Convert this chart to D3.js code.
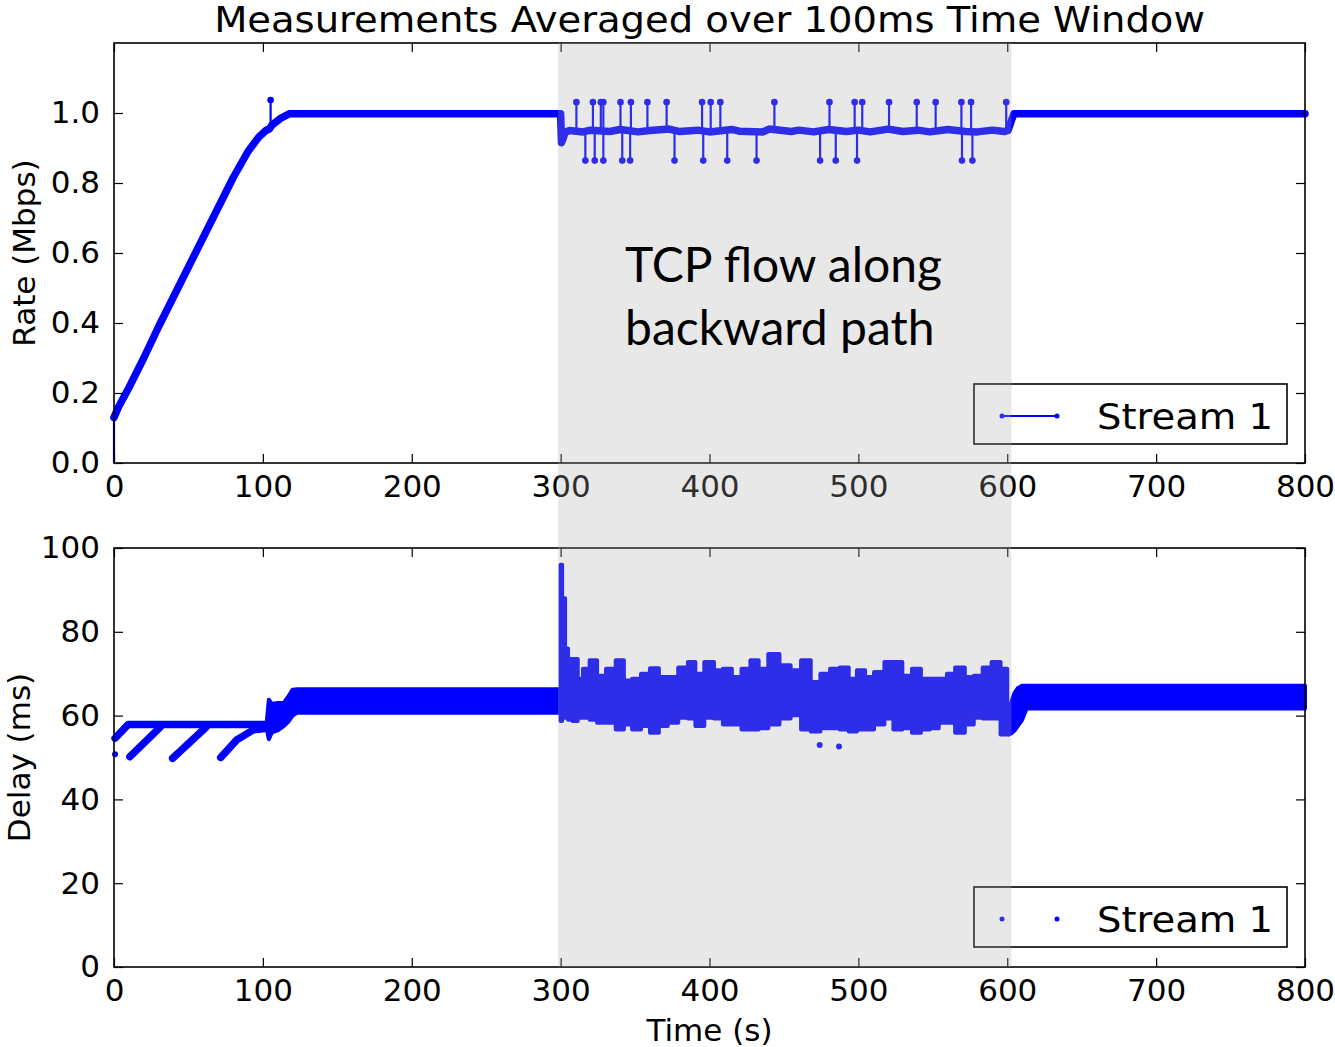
<!DOCTYPE html>
<html>
<head>
<meta charset="utf-8">
<script src="https://cdn.jsdelivr.net/npm/d3@7"></script>
<style>
  body { margin: 0; background: #fff; }
  text { font-family: "DejaVu Sans", sans-serif; }
</style>
</head>
<body>
<div class="canvas"></div>
<script>
// ---- DATA ----
const xTicks = [0, 100, 200, 300, 400, 500, 600, 700, 800];
const rateTicks = [0, 0.2, 0.4, 0.6, 0.8, 1.0];
const delayTicks = [0, 20, 40, 60, 80, 100];

// rate, main trace (s, Mbps)
const rateTimes = [0, 3, 10, 20, 30, 40, 50, 60, 70, 80, 90, 97, 102, 104.5, 106, 112, 118, 300,
  300.6, 301.5, 303, 306, 315, 320, 333, 340, 352, 360, 373, 380, 392, 400, 415, 420, 436, 440, 455, 460, 470,
  480, 492, 500, 508, 520, 530, 540, 548, 560, 572, 580, 590, 598,
  600.5, 602.5, 604.5, 800];
const rateValues = [0.13, 0.16, 0.215, 0.30, 0.39, 0.475, 0.56, 0.645, 0.73, 0.815, 0.89, 0.93, 0.95, 0.955, 0.965, 0.985, 0.998, 0.998,
  0.915, 0.925, 0.945, 0.95, 0.946, 0.951, 0.947, 0.953, 0.946, 0.95, 0.954, 0.947, 0.951, 0.946, 0.953, 0.948, 0.946, 0.954, 0.947, 0.951, 0.946,
  0.953, 0.947, 0.951, 0.946, 0.954, 0.947, 0.951, 0.946, 0.953, 0.947, 0.946, 0.951, 0.947,
  0.95, 0.975, 0.998, 0.998];

// rate, single-sample spikes
const spikeTimes = [0, 105.2, 310.6, 316.6, 321.7, 322.9, 327.0, 328.7, 328.7, 340.2, 341.4, 346.7, 347.2, 358.3, 371.2, 376.5,
  395.0, 395.8, 400.8, 407.3, 411.9, 431.6, 443.6, 474.3, 480.6, 484.8, 497.5, 499.1, 502.6, 520.6, 539.2, 551.9,
  569.2, 569.6, 575.7, 576.6, 599.3];
const spikeBase = [0, 0.955, 0.948, 0.948, 0.948, 0.948, 0.948, 0.948, 0.948, 0.948, 0.948, 0.948, 0.948, 0.948, 0.948, 0.948,
  0.948, 0.948, 0.948, 0.948, 0.948, 0.948, 0.948, 0.948, 0.948, 0.948, 0.948, 0.948, 0.948, 0.948, 0.948, 0.948,
  0.948, 0.948, 0.948, 0.948, 0.948];
const spikeTip = [0.13, 1.037, 1.031, 0.864, 1.031, 0.864, 1.031, 1.031, 0.864, 1.031, 0.864, 0.864, 1.031, 1.031, 1.031, 0.864,
  1.031, 0.864, 1.031, 1.031, 0.864, 0.864, 1.031, 0.864, 1.031, 0.864, 1.031, 0.864, 1.031, 1.031, 1.031, 1.031,
  1.031, 0.864, 1.031, 0.864, 1.031];

// delay, early traces (s, ms)
const flatTimes = [0.7, 9.6, 102.5];
const flatDelay = [54.6, 57.9, 57.9];
const saw1Times = [10.7, 30.9];
const saw1Delay = [50.2, 57.2];
const saw2Times = [39.4, 61.8];
const saw2Delay = [49.8, 57.2];
const saw3Times = [71.7, 82.4, 93.6, 109.3];
const saw3Delay = [50, 54.2, 56.6, 57.2];

// delay, bands (low/high envelope)
const band1Times = [102.5, 104, 106, 110, 114, 117, 120, 123, 300];
const band1High = [58, 63.8, 62.8, 63, 63, 64.5, 66.2, 66.3, 66.3];
const band1Low = [57, 54.4, 56, 56.5, 57.5, 58.5, 60, 60.7, 60.7];

const noiseTimes = [300, 302, 304, 306, 310, 313, 317, 322, 327, 334, 340, 345, 351, 357, 363, 369, 375, 383, 388,
  393, 400, 406, 412, 418, 425, 430, 436, 443, 451, 458, 465, 471, 478, 484, 491, 496, 502, 507, 514, 521, 526,
  533, 539, 545, 551, 557, 562, 568, 575, 580, 587, 592, 599, 601];
const noiseHigh = [96, 88, 76, 73.5, 73.5, 68.8, 71.2, 73.2, 69.5, 71.2, 73.2, 68.4, 68.8, 70, 71.3, 69.2, 69.2, 71.5, 72.8,
  70, 72.8, 70.8, 71.2, 69.2, 71.2, 73.2, 71.2, 74.7, 72, 70.8, 73.2, 68, 70, 71.2, 71.5, 68.8, 70.8, 69.2, 70.4, 72.8, 72.8,
  69.5, 71.2, 68.8, 68.8, 68.8, 70, 71.5, 69.2, 69.5, 71.5, 72.8, 71.2, 62];
const noiseLow = [58.7, 59.5, 59.5, 59, 58.7, 59.5, 59.5, 59, 58.3, 58.3, 56.7, 57.9, 56.7, 57.5, 55.9, 57.5, 58.3, 59.5, 59.3,
  57.5, 59.5, 59.3, 57.9, 57.9, 56.7, 56.7, 57, 57.9, 59.3, 60.1, 56.7, 56.2, 57, 57, 56.7, 56.2, 56.7, 56.7, 57.9, 59.3, 56.7,
  57, 55.9, 56.7, 57, 58.3, 58.3, 55.9, 57.9, 59.5, 59.3, 59.3, 55.5, 55.5];

const band2Times = [601, 603, 605, 607, 610, 613, 800];
const band2High = [61.5, 63.5, 65.5, 66.5, 67.1, 67.1, 67.1];
const band2Low = [55.5, 55.8, 56.5, 57.5, 59, 61.7, 61.7];

// stray delay samples
const dotTimes = [0.7, 474, 487];
const dotDelay = [50.8, 53, 52.6];

// shaded period (TCP cross traffic)
const shadeSpan = [298.2, 602.8];

// ---- SETUP ----
const dims = { width: 1335, height: 1047 };
const blue = '#0000ff';

const svg = d3.select('.canvas')
  .append('svg')
  .attr('width', dims.width)
  .attr('height', dims.height);

const x = d3.scaleLinear().domain([0, 800]).range([114, 1305]);
const yRate = d3.scaleLinear().domain([0, 1.2]).range([463, 43]);
const yDelay = d3.scaleLinear().domain([0, 100]).range([967, 548]);

const zip = (ts, vs) => ts.map((t, i) => ({ t, v: vs[i] }));
const zip3 = (ts, lo, hi) => ts.map((t, i) => ({ t, lo: lo[i], hi: hi[i] }));

// ---- TOP PANEL: RATE ----
const ratePanel = svg.append('g');

const rateLine = d3.line().x((d) => x(d.t)).y((d) => yRate(d.v));

ratePanel.append('path')
  .datum(zip(rateTimes, rateValues))
  .attr('d', rateLine)
  .attr('fill', 'none')
  .attr('stroke', blue)
  .attr('stroke-width', 7.5)
  .attr('stroke-linejoin', 'round')
  .attr('stroke-linecap', 'round');

const spikes = spikeTimes.map((t, i) => ({ t, base: spikeBase[i], tip: spikeTip[i] }));

ratePanel.selectAll('line.spike')
  .data(spikes)
  .enter()
  .append('line')
  .attr('class', 'spike')
  .attr('x1', (d) => x(d.t))
  .attr('x2', (d) => x(d.t))
  .attr('y1', (d) => yRate(d.base))
  .attr('y2', (d) => yRate(d.tip))
  .attr('stroke', blue)
  .attr('stroke-width', 2.2);

ratePanel.selectAll('circle.tip')
  .data(spikes)
  .enter()
  .append('circle')
  .attr('class', 'tip')
  .attr('cx', (d) => x(d.t))
  .attr('cy', (d) => yRate(d.tip))
  .attr('r', 3.3)
  .attr('fill', blue);

// ---- BOTTOM PANEL: DELAY ----
const delayPanel = svg.append('g');

const delayLine = d3.line().x((d) => x(d.t)).y((d) => yDelay(d.v));

[[flatTimes, flatDelay], [saw1Times, saw1Delay], [saw2Times, saw2Delay], [saw3Times, saw3Delay]].forEach(([ts, vs]) => {
  delayPanel.append('path')
    .datum(zip(ts, vs))
    .attr('d', delayLine)
    .attr('fill', 'none')
    .attr('stroke', blue)
    .attr('stroke-width', 7.5)
    .attr('stroke-linejoin', 'round')
    .attr('stroke-linecap', 'round');
});

const bandArea = (curve) => d3.area()
  .x((d) => x(d.t))
  .y0((d) => yDelay(d.lo))
  .y1((d) => yDelay(d.hi))
  .curve(curve);

[[zip3(band1Times, band1Low, band1High), d3.curveLinear],
 [zip3(noiseTimes, noiseLow, noiseHigh), d3.curveStep],
 [zip3(band2Times, band2Low, band2High), d3.curveLinear]].forEach(([data, curve]) => {
  delayPanel.append('path')
    .datum(data)
    .attr('d', bandArea(curve))
    .attr('fill', blue)
    .attr('stroke', blue)
    .attr('stroke-width', 4)
    .attr('stroke-linejoin', 'round');
});

delayPanel.selectAll('circle.dot')
  .data(zip(dotTimes, dotDelay))
  .enter()
  .append('circle')
  .attr('class', 'dot')
  .attr('cx', (d) => x(d.t))
  .attr('cy', (d) => yDelay(d.v))
  .attr('r', 3)
  .attr('fill', blue);

// ---- AXES ----
const styleAxis = (g) => {
  g.select('.domain').remove();
  g.selectAll('line').attr('stroke', '#000').attr('stroke-width', 1.2);
  g.selectAll('text').attr('fill', '#000').style('font-size', '31px').style('font-family', '"DejaVu Sans", sans-serif');
};

const drawFrame = (y, yTicks, fmt) => {
  const [y0, y1] = y.range();
  const g = svg.append('g');
  g.append('g').attr('transform', `translate(0,${y0})`)
    .call(d3.axisBottom(x).tickValues(xTicks).tickSize(-9).tickPadding(12).tickFormat(d3.format('d')))
    .call(styleAxis);
  g.append('g').attr('transform', `translate(0,${y1})`)
    .call(d3.axisTop(x).tickValues(xTicks).tickSize(-9).tickFormat(''))
    .call(styleAxis);
  g.append('g').attr('transform', `translate(${x(0)},0)`)
    .call(d3.axisLeft(y).tickValues(yTicks).tickSize(-9).tickPadding(14).tickFormat(fmt))
    .call(styleAxis);
  g.append('g').attr('transform', `translate(${x(800)},0)`)
    .call(d3.axisRight(y).tickValues(yTicks).tickSize(-9).tickFormat(''))
    .call(styleAxis);
  g.append('rect')
    .attr('x', x(0)).attr('y', y1)
    .attr('width', x(800) - x(0)).attr('height', y0 - y1)
    .attr('fill', 'none').attr('stroke', '#000').attr('stroke-width', 1.6);
  return g;
};

drawFrame(yRate, rateTicks, d3.format('.1f'));
drawFrame(yDelay, delayTicks, d3.format('d'));

// ---- LABELS ----
svg.append('text')
  .attr('transform', `translate(${(x(0) + x(800)) / 2},32) scale(1.1,1)`)
  .attr('text-anchor', 'middle')
  .style('font-size', '35px')
  .text('Measurements Averaged over 100ms Time Window');

svg.append('text')
  .attr('transform', `translate(35,${(yRate(0) + yRate(1.2)) / 2}) rotate(-90)`)
  .attr('text-anchor', 'middle')
  .style('font-size', '31px')
  .text('Rate (Mbps)');

svg.append('text')
  .attr('transform', `translate(30,${(yDelay(0) + yDelay(100)) / 2}) rotate(-90)`)
  .attr('text-anchor', 'middle')
  .style('font-size', '31px')
  .text('Delay (ms)');

svg.append('text')
  .attr('x', (x(0) + x(800)) / 2).attr('y', 1041)
  .attr('text-anchor', 'middle')
  .style('font-size', '31px')
  .text('Time (s)');

// ---- LEGENDS ----
const legend = (yTop, withLine) => {
  const g = svg.append('g');
  g.append('rect')
    .attr('x', 974).attr('y', yTop).attr('width', 313).attr('height', 60)
    .attr('fill', '#fff').attr('stroke', '#000').attr('stroke-width', 1.6);
  const ly = yTop + 32;
  if (withLine) {
    g.append('line').attr('x1', 1002).attr('x2', 1057).attr('y1', ly).attr('y2', ly)
      .attr('stroke', blue).attr('stroke-width', 2);
  }
  [1002, 1057].forEach((cx) => {
    g.append('circle').attr('cx', cx).attr('cy', ly).attr('r', 2.5).attr('fill', blue);
  });
  g.append('text')
    .attr('transform', `translate(1097,${yTop + 45}) scale(1.1,1)`)
    .style('font-size', '35px')
    .text('Stream 1');
};

legend(384, true);
legend(887, false);

// ---- SHADED PERIOD (semi-transparent overlay) ----
svg.append('rect')
  .attr('x', x(shadeSpan[0]))
  .attr('y', yRate(1.2))
  .attr('width', x(shadeSpan[1]) - x(shadeSpan[0]))
  .attr('height', yDelay(0) - yRate(1.2))
  .attr('fill', 'rgb(170,170,170)')
  .attr('opacity', 0.27);

// ---- ANNOTATION ----
const note = svg.append('text')
  .style('font-family', 'Lato, "Open Sans", sans-serif')
  .style('font-size', '48px')
  .attr('fill', '#000');
note.append('tspan').attr('x', 625).attr('y', 282).text('TCP flow along');
note.append('tspan').attr('x', 625).attr('y', 345).text('backward path');
</script>
</body>
</html>
